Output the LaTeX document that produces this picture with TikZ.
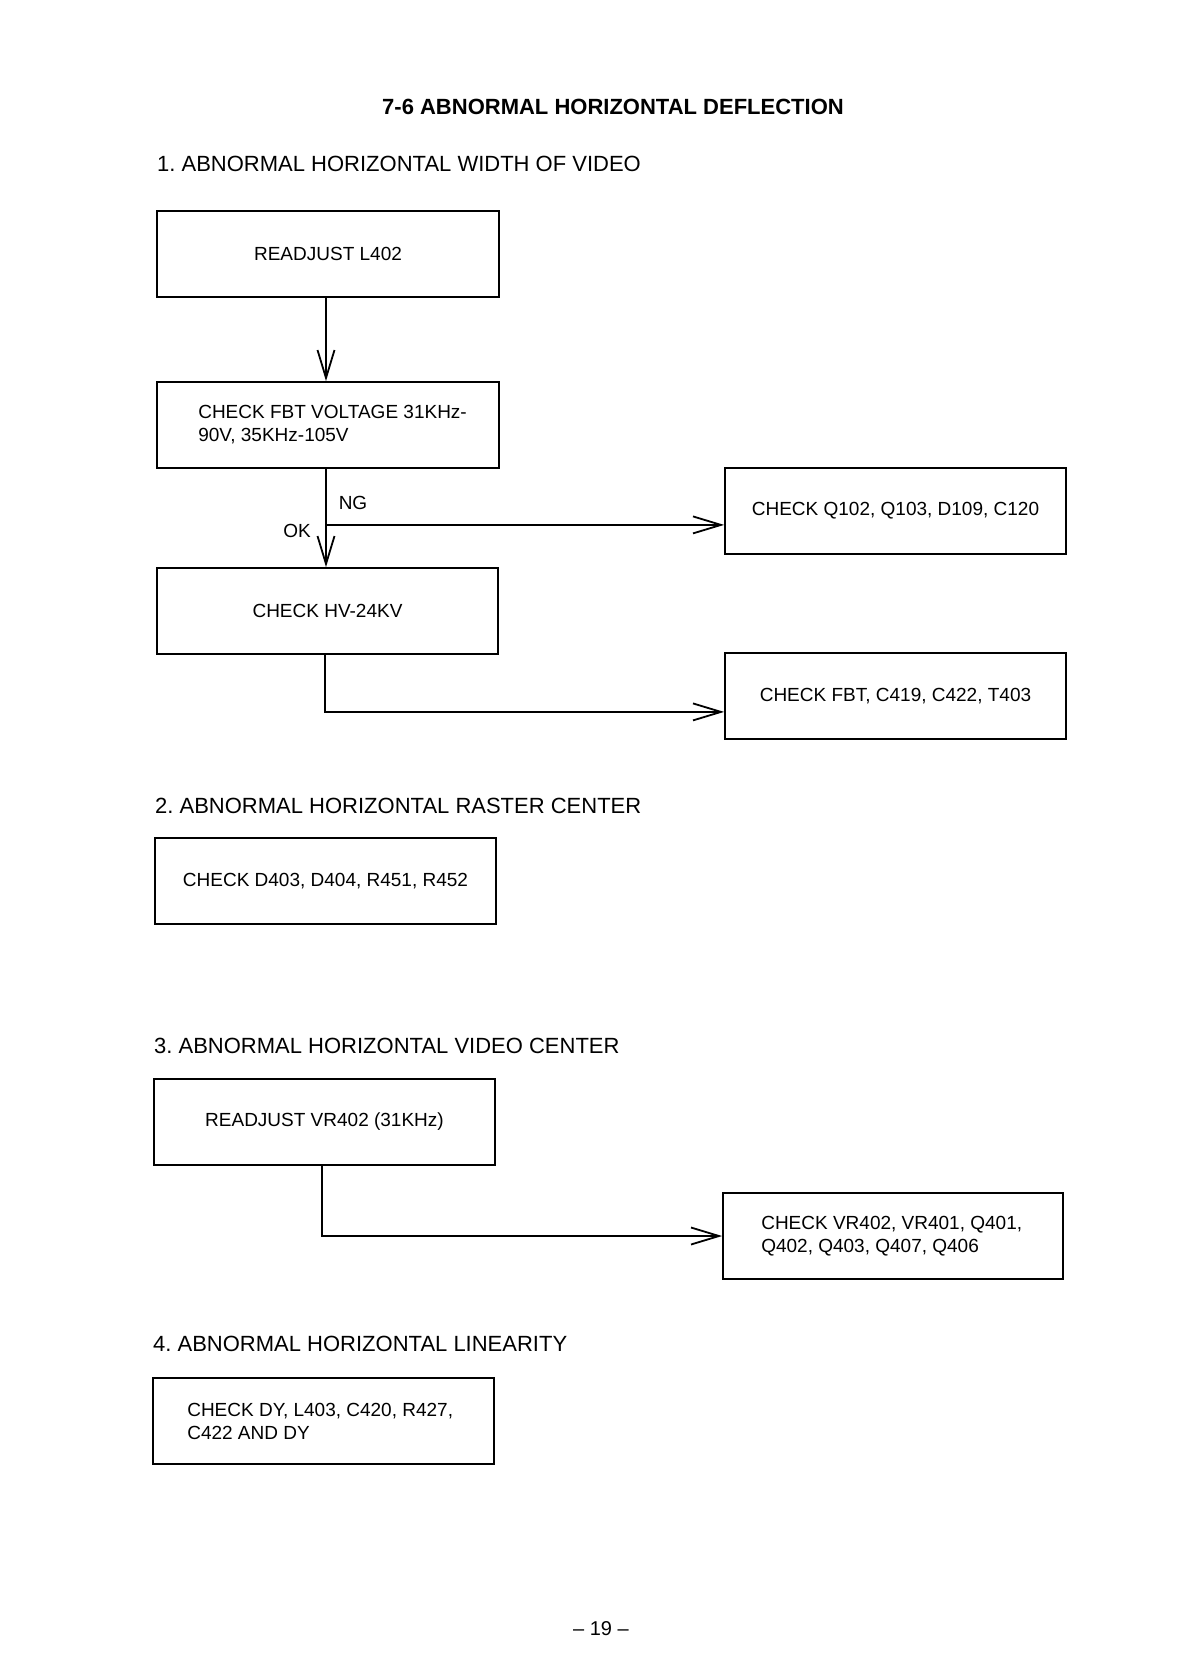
\documentclass[tikz,border=0pt]{standalone}
\usepackage{fontspec}
\setmainfont{Liberation Sans}
\usetikzlibrary{arrows.meta,calc}
\frenchspacing
\begin{document}
\begin{tikzpicture}[x=1pt,y=-1pt,
  box/.style={draw,line width=1.8pt,minimum height=86pt,inner sep=0pt,font=\fontsize{19}{23}\selectfont},
  btext/.style={anchor=west,align=left,inner sep=0pt,font=\fontsize{19}{23}\selectfont},
  head/.style={anchor=base west,inner sep=0pt,font=\fontsize{22}{26}\selectfont},
  lbl/.style={inner sep=0pt,font=\fontsize{19}{23}\selectfont},
  conn/.style={line width=1.8pt},
  arr/.style={conn,-{Straight Barb[length=28pt,width=17pt,line width=1.8pt]}}]
\useasboundingbox (0,0) rectangle (1183,1674);
\fill[white] (0,0) rectangle (1183,1674);

% title and headings
\node[anchor=base,inner sep=0pt,font=\fontsize{22}{26}\selectfont\bfseries] (title) at (613,114) {7-6 ABNORMAL HORIZONTAL DEFLECTION};
\node[head] (h1) at (157,171) {1. ABNORMAL HORIZONTAL WIDTH OF VIDEO};
\node[head] (h2) at (155,813) {2. ABNORMAL HORIZONTAL RASTER CENTER};
\node[head] (h3) at (154,1053) {3. ABNORMAL HORIZONTAL VIDEO CENTER};
\node[head] (h4) at (153,1351) {4. ABNORMAL HORIZONTAL LINEARITY};

% section 1
\node[box,minimum width=342pt] (a) at (328,254) {READJUST L402};
\node[box,minimum width=342pt] (b) at (328,425) {};
\node[btext] (bt) at ($(b.west)+(42,0)$) {CHECK FBT VOLTAGE 31KHz-\\90V, 35KHz-105V};
\node[box,minimum width=341pt] (c) at (327.5,611) {CHECK HV-24KV};
\node[box,minimum width=341pt] (d) at (895.5,511) {CHECK Q102, Q103, D109, C120};
\node[box,minimum width=341pt] (e) at (895.5,696) {CHECK FBT, C419, C422, T403};

\draw[arr] ($(a.south)+(-2,0)$) -- ($(b.north)+(-2,0)$);
\draw[arr] ($(b.south)+(-2,0)$) -- ($(c.north)+(-1.5,0)$);
\coordinate (ng) at ($(b.south)+(-2,56)$);
\draw[arr] (ng) -- (ng -| d.west);
\node[lbl] (nglbl) at (353,503) {NG};
\node[lbl] (oklbl) at (297,531) {OK};
\coordinate (cs) at ($(c.south)+(-2.5,0)$);
\coordinate (ce) at ($(cs)+(0,57)$);
\draw[arr] (cs) -- (ce) -- (ce -| e.west);

% section 2
\node[box,minimum width=341pt] (f) at (325.5,881) {CHECK D403, D404, R451, R452};

% section 3
\node[box,minimum width=341pt] (g) at (324.5,1122) {READJUST VR402 (31KHz)};
\node[box,minimum width=340pt] (h) at (893,1236) {};
\node[btext] (ht) at ($(h.west)+(39,0)$) {CHECK VR402, VR401, Q401,\\Q402, Q403, Q407, Q406};
\draw[arr] ($(g.south)+(-2.5,0)$) |- (h.west);

% section 4
\node[box,minimum width=341pt] (i) at (323.5,1421) {};
\node[btext] (it) at ($(i.west)+(35,0)$) {CHECK DY, L403, C420, R427,\\C422 AND DY};

% page number
\node[inner sep=0pt,font=\fontsize{20}{24}\selectfont] (pg) at (601,1629) {-- 19 --};
\end{tikzpicture}
\end{document}
